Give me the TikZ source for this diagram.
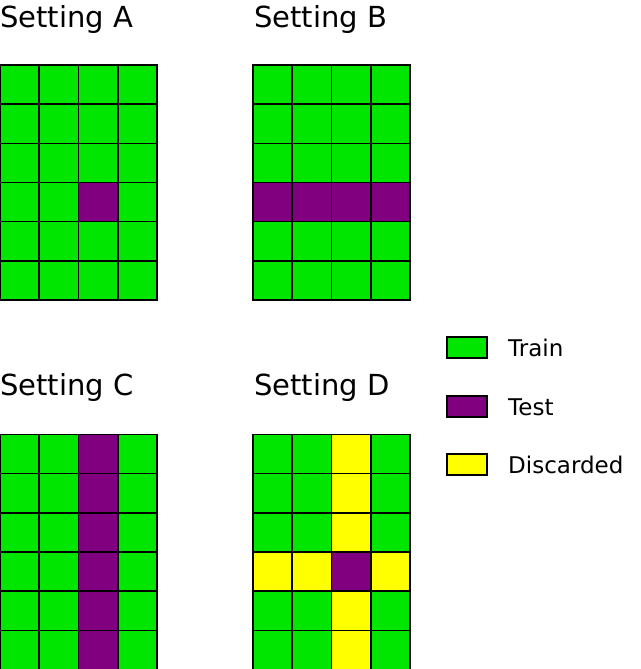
\documentclass[tikz,border=0pt]{standalone}
\usepackage{fontspec}
\setmainfont{DejaVu Sans}
\definecolor{gr}{RGB}{0,230,0}
\definecolor{pu}{RGB}{128,0,128}
\definecolor{ye}{RGB}{255,255,0}
\tikzset{cell/.style={draw=black,line width=1.6pt},
title/.style={anchor=base west,inner sep=0pt,font=\fontsize{29}{32}\selectfont},
leg/.style={anchor=base west,inner sep=0pt,font=\fontsize{23}{26}\selectfont}}
\newcommand{\grid}[4]{% x0,y0,name, colour macro
\foreach \c in {0,...,3}{\foreach \r in {0,...,5}{%
 \pgfmathsetmacro{\xx}{#1+\c*39.25}\pgfmathsetmacro{\yy}{#2+\r*39.17}%
 #4%
 \fill[cell,fill=\cc] (\xx,\yy) rectangle ++(39.25,39.17);}}}
\begin{document}
\begin{tikzpicture}[x=1pt,y=-1pt]
\useasboundingbox (0,0) rectangle (640,669);
\grid{0}{65}{A}{\def\cc{gr}\ifnum\c=2 \ifnum\r=3 \def\cc{pu}\fi\fi}
\grid{253}{65}{B}{\def\cc{gr}\ifnum\r=3 \def\cc{pu}\fi}
\grid{0}{434.5}{C}{\def\cc{gr}\ifnum\c=2 \def\cc{pu}\fi}
\grid{253}{434.5}{D}{\def\cc{gr}\ifnum\c=2 \def\cc{ye}\fi\ifnum\r=3 \def\cc{ye}\fi\ifnum\c=2 \ifnum\r=3 \def\cc{pu}\fi\fi}
\node[title] (ta) at (0,28) {Setting A};
\node[title] (tb) at (254,28) {Setting B};
\node[title] (tc) at (0,395) {Setting C};
\node[title] (td) at (254,395) {Setting D};
\node[cell,fill=gr,minimum width=40pt,minimum height=21pt,inner sep=0pt] (l1) at (467,347.5) {};
\node[cell,fill=pu,minimum width=40pt,minimum height=21pt,inner sep=0pt] (l2) at (467,406.5) {};
\node[cell,fill=ye,minimum width=40pt,minimum height=21pt,inner sep=0pt] (l3) at (467,464.5) {};
\node[leg] (t1) at (508,356) {Train};
\node[leg] (t2) at (508,415) {Test};
\node[leg] (t3) at (508,473) {Discarded};
\end{tikzpicture}
\end{document}
